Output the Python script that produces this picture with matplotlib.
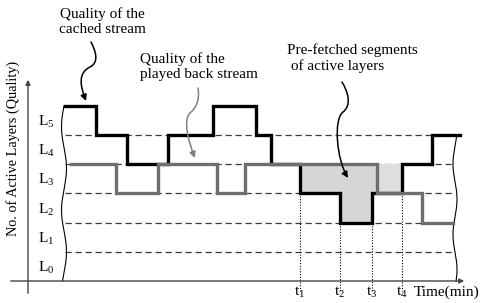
import numpy as np
import matplotlib
matplotlib.use('Agg')
import matplotlib.pyplot as plt
from matplotlib.patches import FancyArrowPatch
from matplotlib.path import Path

plt.rcParams['font.family'] = 'Liberation Serif'
plt.rcParams['mathtext.fontset'] = 'custom'
plt.rcParams['mathtext.rm'] = 'Liberation Serif'
plt.rcParams['mathtext.it'] = 'Liberation Serif:italic'

# quality of the cached stream (step, post)
cached_t = [65, 96, 127, 168, 213, 256, 271, 300, 340, 372, 402, 432, 460]
cached_q = [6, 5, 4, 5, 6, 5, 4, 3, 2, 3, 4, 5, 5]
# quality of the played back stream
played_t = [71, 116, 158, 217, 245, 377, 422, 453]
played_q = [4, 3, 4, 3, 4, 3, 2, 2]
# pre-fetched region
fill_t = [300, 340, 372, 377]
fill_q = [3, 2, 3, 3]
fill2_t = [377, 402]
fill2_q = [3, 3]
# time marks
t_marks = [300, 340, 372, 402]
t_start = [3, 2, 2, 3]
t_labels = ['t$_1$', 't$_2$', 't$_3$', 't$_4$']
levels = [0, 1, 2, 3, 4, 5]
level_labels = ['L$_%d$' % k for k in levels]

Y0 = 281.0
DY = 29.2
def lv(py):
    return (Y0 - py) / DY

fig = plt.figure(figsize=(4.82, 3.03), dpi=100)
ax = fig.add_axes([0, 0, 1, 1])
ax.set_xlim(0, 482)
ax.set_ylim(lv(303), lv(0))
ax.axis('off')

# dashed level lines
for k in levels[1:]:
    ax.plot([65, 455], [k, k], ls=(0, (5, 3)), color='#3a3a3a', lw=0.9, zorder=1)

# fills
ax.fill_between(fill_t, fill_q, 4, step='post', color='#d6d6d6', lw=0, zorder=2)
ax.fill_between(fill2_t, fill2_q, 4, step='post', color='#dedede', lw=0, zorder=2)

# dotted time lines
for t, s in zip(t_marks, t_start):
    ax.plot([t, t], [s, lv(291)], ls=(0, (1, 1.5)), color='k', lw=0.8, zorder=1)

# streams
ax.step(cached_t, cached_q, where='post', color='k', lw=2.4, zorder=3,
        solid_joinstyle='miter')
ax.step(played_t, played_q, where='post', color='#6e6e6e', lw=2.4, zorder=4,
        solid_joinstyle='miter')

# axes with arrows
ax.annotate('', xy=(467, 0), xytext=(8, 0),
            arrowprops=dict(arrowstyle='-|>', color='#444444', lw=1, mutation_scale=7))
ax.annotate('', xy=(28, lv(77)), xytext=(28, lv(296)),
            arrowprops=dict(arrowstyle='-|>', color='#444444', lw=1, mutation_scale=7))

# wavy break lines
yy = np.linspace(lv(106), 0, 200)
ax.plot(64 + 2.5 * np.sin((yy - 6) * 2.2), yy, color='k', lw=0.8, zorder=2)
yy = np.linspace(5, 0, 200)
ax.plot(455 + 2.0 * np.sin((yy - 5) * 2.6 + 1.0), yy, color='k', lw=0.8, zorder=2)

# level labels
for k, lab in zip(levels, level_labels):
    ax.text(46, k + 0.45, lab, ha='center', va='center', fontsize=11)

for t, lab in zip(t_marks, t_labels):
    ax.text(t, lv(292), lab, ha='center', va='center', fontsize=11)
ax.text(447, lv(292), 'Time(min)', ha='center', va='center', fontsize=11)

ax.text(13, lv(148), 'No. of Active Layers (Quality)', rotation=90,
        ha='center', va='center', fontsize=10.3)

ax.text(102, lv(22), 'Quality of the\ncached stream', ha='center', va='center',
        fontsize=11, linespacing=1.2)
ax.text(140, lv(67), 'Quality of the\nplayed back stream', ha='left', va='center',
        fontsize=11, linespacing=1.2)
ax.text(287, lv(58), 'Pre-fetched segments\n of active layers', ha='left', va='center',
        fontsize=11, linespacing=1.2)

def wavy_arrow(pts, color):
    verts = [(x, lv(y)) for x, y in pts]
    codes = [Path.MOVETO] + [Path.CURVE4] * (len(verts) - 1)
    p = FancyArrowPatch(path=Path(verts, codes), arrowstyle='-|>', color=color,
                        lw=1.1, mutation_scale=9, transform=ax.transData, zorder=5)
    ax.add_patch(p)

wavy_arrow([(91, 42), (95, 50), (100, 62), (90, 67),
            (78, 73), (80, 85), (86, 101)], 'k')
wavy_arrow([(198, 88), (200, 100), (196, 108), (190, 113),
            (183, 120), (188, 140), (195, 158)], '#808080')
wavy_arrow([(342, 82), (348, 92), (352, 105), (343, 112),
            (333, 120), (337, 160), (348, 178)], 'k')

plt.savefig('out.png', dpi=100)
